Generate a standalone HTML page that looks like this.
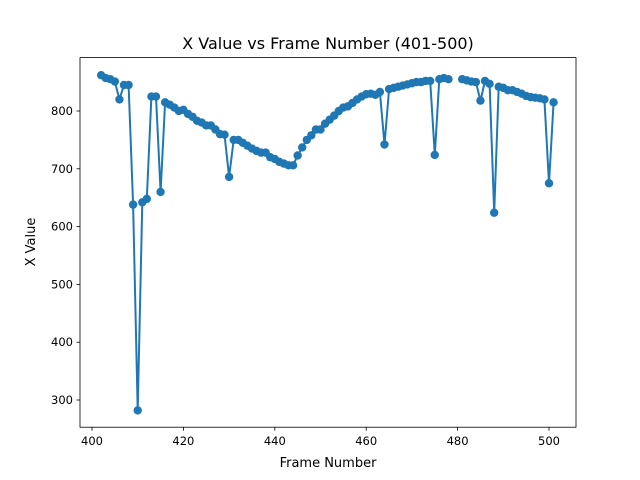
<!DOCTYPE html>
<html><head><meta charset="utf-8"><style>
html,body{margin:0;padding:0;background:#fff;}
svg{display:block;font-family:"DejaVu Sans","Liberation Sans",sans-serif;}
</style></head><body>
<svg id="chart" width="640" height="480" viewBox="0 0 640 480" xmlns="http://www.w3.org/2000/svg">
<rect width="640" height="480" fill="#fff"/>
<text x="328" y="49" text-anchor="middle" font-size="16">X Value vs Frame Number (401-500)</text>
<g id="plot"></g>
<rect x="80" y="57.6" width="496" height="369.6" fill="none" stroke="#000" stroke-width="0.8"/>
<g id="xt"></g>
<g id="yt"></g>
<text x="328" y="467" text-anchor="middle" font-size="13">Frame Number</text>
<text transform="translate(35,242) rotate(-90)" text-anchor="middle" font-size="13">X Value</text>
</svg>
<script>
const frames = [];
for (let f = 402; f <= 501; f++) frames.push(f);
const xValues = [862,857,855,851,820,845,845,638,282,642,648,825,825,660,815,811,806,800,802,795,790,783,780,775,775,768,760,759,686,750,750,745,740,735,731,728,728,720,717,712,709,706,706,723,737,750,758,768,768,778,785,792,800,806,808,814,820,825,829,830,828,833,742,838,840,842,844,846,848,850,850,852,852,724,855,857,855,null,null,855,853,851,850,818,852,847,624,842,840,836,836,833,830,826,824,823,822,820,675,815];
const xTicks = [400,420,440,460,480,500];
const yTicks = [300,400,500,600,700,800];
const NS = "http://www.w3.org/2000/svg";
const sx = v => 92 + (v - 400) * 4.57;
const sy = v => 111 + (800 - v) * 0.578;
const plot = document.getElementById('plot');
let d = "", pen = false;
frames.forEach((f, i) => {
  const v = xValues[i];
  if (v === null) { pen = false; return; }
  d += (pen ? "L" : "M") + sx(f).toFixed(1) + "," + sy(v).toFixed(1);
  pen = true;
});
const line = document.createElementNS(NS, 'path');


line.setAttribute('d', d);
line.setAttribute('fill', 'none');
line.setAttribute('stroke', '#1f77b4');
line.setAttribute('stroke-width', '2');
plot.appendChild(line);
frames.forEach((f, i) => {
  const v = xValues[i];
  if (v === null) return;
  const c = document.createElementNS(NS, 'circle');
  
  
  c.setAttribute('cx', sx(f));
  c.setAttribute('cy', sy(v));
  c.setAttribute('r', 4.2);
  c.setAttribute('fill', '#1f77b4');
  plot.appendChild(c);
});
const xt = document.getElementById('xt');
xTicks.forEach(t => {
  const l = document.createElementNS(NS, 'line');
  
  
  l.setAttribute('x1', sx(t)); l.setAttribute('x2', sx(t));
  l.setAttribute('y1', 427.2); l.setAttribute('y2', 430.7);
  l.setAttribute('stroke', '#000'); l.setAttribute('stroke-width', '0.8');
  xt.appendChild(l);
  const tx = document.createElementNS(NS, 'text');
  
  
  tx.setAttribute('x', sx(t)); tx.setAttribute('y', 445);
  tx.setAttribute('text-anchor', 'middle'); tx.setAttribute('font-size', '11.5');
  tx.textContent = t;
  xt.appendChild(tx);
});
const yt = document.getElementById('yt');
yTicks.forEach(t => {
  const l = document.createElementNS(NS, 'line');
  
  
  l.setAttribute('x1', 76.5); l.setAttribute('x2', 80);
  l.setAttribute('y1', sy(t)); l.setAttribute('y2', sy(t));
  l.setAttribute('stroke', '#000'); l.setAttribute('stroke-width', '0.8');
  yt.appendChild(l);
  const tx = document.createElementNS(NS, 'text');
  
  
  tx.setAttribute('x', 73); tx.setAttribute('y', sy(t) + 4);
  tx.setAttribute('text-anchor', 'end'); tx.setAttribute('font-size', '11.5');
  tx.textContent = t;
  yt.appendChild(tx);
});
</script>
</body></html>
